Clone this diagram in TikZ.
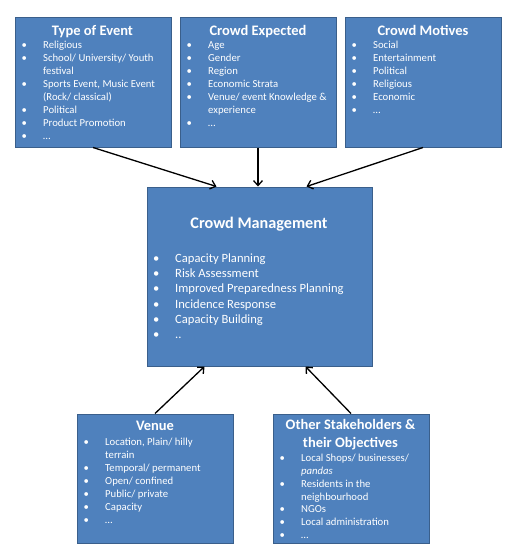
\documentclass[tikz,border=0pt]{standalone}
\usepackage{fontspec}
\setmainfont{Carlito}
\usetikzlibrary{arrows.meta,shadows}
\definecolor{boxfill}{HTML}{4F81BD}
\definecolor{boxline}{HTML}{3A5F8B}
\newcommand\bl{\makebox[19pt][l]{\makebox[0pt]{\textbullet}}}
\newcommand\nb{\hspace*{19pt}}
\tikzset{
  box/.style={draw=boxline, line width=1pt, fill=boxfill, inner sep=0pt,
    drop shadow={shadow xshift=1.2pt, shadow yshift=-1.2pt, opacity=0.25}},
  ttl/.style={text=white, font=\fontsize{14.5}{17}\selectfont\bfseries, anchor=base, inner sep=0pt, align=center},
  lst/.style={text=white, font=\fontsize{10.7}{13}\selectfont, anchor=base west, inner sep=0pt, align=left},
  arr/.style={line width=1.3pt, -{Straight Barb[length=5pt,width=9pt]}}
}
\begin{document}
\begin{tikzpicture}[x=1pt,y=-1pt]
\useasboundingbox (0,0) rectangle (513,552);
% boxes
\node[box, minimum width=156pt, minimum height=130pt] (toe) at (93,82) {};
\node[box, minimum width=156pt, minimum height=130pt] (ce) at (258,82) {};
\node[box, minimum width=156pt, minimum height=130pt] (cmo) at (423,82) {};
\node[box, minimum width=225pt, minimum height=179pt] (cm) at (259.5,276.5) {};
\node[box, minimum width=156pt, minimum height=129pt] (ven) at (155,478.5) {};
\node[box, minimum width=156pt, minimum height=129pt] (oth) at (351,478.5) {};
% titles (base anchor = baseline of last line)
\node[ttl] (toet) at (92.5,35) {Type of Event};
\node[ttl] (cet) at (258,35) {Crowd Expected};
\node[ttl] (cmot) at (423,35) {Crowd Motives};
\node[ttl, font=\fontsize{16.2}{19}\selectfont\bfseries] (cmt) at (259,228.3) {Crowd Management};
\node[ttl] (vent) at (155,430.7) {Venue};
\node[ttl, font=\fontsize{14.5}{18.4}\selectfont\bfseries] (otht) at (350.5,447.7) {Other Stakeholders \&\\their Objectives};
% lists (base anchor = baseline of last line)
\node[lst] (toel) at (24,139.5) {\bl Religious\\\bl School/ University/ Youth\\\nb festival\\\bl Sports Event, Music Event\\\nb (Rock/ classical)\\\bl Political\\\bl Product Promotion\\\bl \dots};
\node[lst] (cel) at (189,126.5) {\bl Age\\\bl Gender\\\bl Region\\\bl Economic Strata\\\bl Venue/ event Knowledge \&\\\nb experience\\\bl \dots};
\node[lst] (cmol) at (354,113.5) {\bl Social\\\bl Entertainment\\\bl Political\\\bl Religious\\\bl Economic\\\bl \dots};
\node[lst, font=\fontsize{12.6}{15.3}\selectfont] (cml) at (156,338.8) {\bl Capacity Planning\\\bl Risk Assessment\\\bl Improved Preparedness Planning\\\bl Incidence Response\\\bl Capacity Building\\\bl ..};
\node[lst] (venl) at (86,523.7) {\bl Location, Plain/ hilly\\\nb terrain\\\bl Temporal/ permanent\\\bl Open/ confined\\\bl Public/ private\\\bl Capacity\\\bl \dots};
\node[lst, font=\fontsize{10.7}{12.8}\selectfont] (othl) at (282,538.5) {\bl Local Shops/ businesses/\\\nb \textit{pandas}\\\bl Residents in the\\\nb neighbourhood\\\bl NGOs\\\bl Local administration\\\bl \dots};
% arrows
\draw[arr] (toe.south) -- ([xshift=70pt]cm.north west);
\draw[arr] (ce.south) -- (ce.south |- cm.north);
\draw[arr] (cmo.south) -- ([xshift=160pt]cm.north west);
\draw[arr] (ven.north) -- ([xshift=58pt]cm.south west);
\draw[arr] (oth.north) -- ([xshift=159pt]cm.south west);
\end{tikzpicture}
\end{document}
